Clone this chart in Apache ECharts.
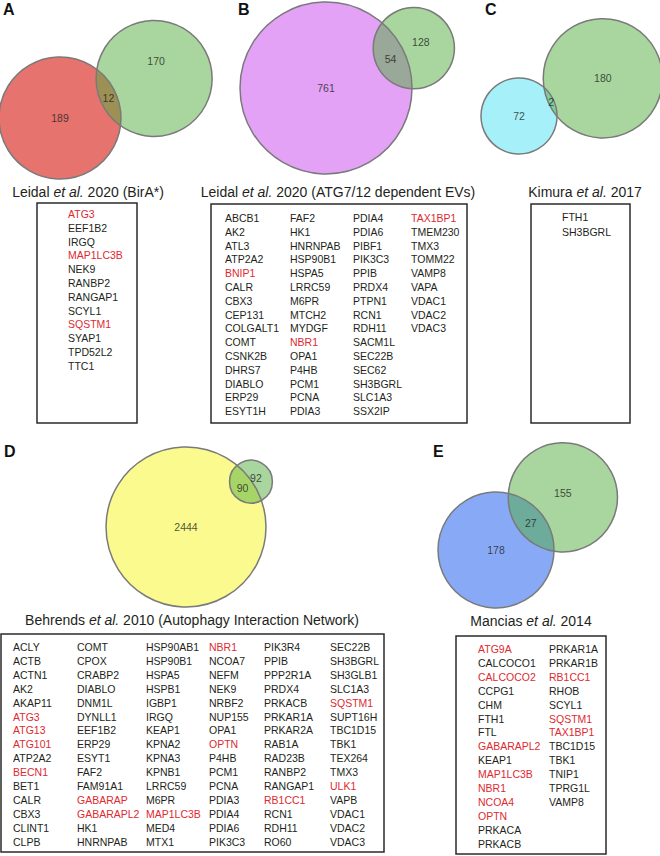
<!DOCTYPE html>
<html><head><meta charset="utf-8">
<script src="https://cdn.jsdelivr.net/npm/echarts@6/dist/echarts.min.js"></script>
<style>html,body{margin:0;padding:0;background:#fff}#c{width:660px;height:856px}</style>
</head><body><div id="c"></div>
<script>
// ---------- DATA ----------
const panelLetters = ['A', 'B', 'C', 'D', 'E'];
const vennOnlyFirst = [189, 761, 72, 2444, 178];
const vennOnlySecond = [170, 128, 180, 92, 155];
const vennOverlap = [12, 54, 2, 90, 27];
const titleAuthors = ['Leidal', 'Leidal', 'Kimura', 'Behrends', 'Mancias'];
const titleRest = [' 2020 (BirA*)', ' 2020 (ATG7/12 dependent EVs)', ' 2017',
  ' 2010 (Autophagy Interaction Network)', ' 2014'];
const genesA = ['ATG3','EEF1B2','IRGQ','MAP1LC3B','NEK9','RANBP2','RANGAP1','SCYL1','SQSTM1','SYAP1','TPD52L2','TTC1'];
const genesB = ['ABCB1','AK2','ATL3','ATP2A2','BNIP1','CALR','CBX3','CEP131','COLGALT1','COMT','CSNK2B','DHRS7','DIABLO','ERP29','ESYT1H',
  'FAF2','HK1','HNRNPAB','HSP90B1','HSPA5','LRRC59','M6PR','MTCH2','MYDGF','NBR1','OPA1','P4HB','PCM1','PCNA','PDIA3',
  'PDIA4','PDIA6','PIBF1','PIK3C3','PPIB','PRDX4','PTPN1','RCN1','RDH11','SACM1L','SEC22B','SEC62','SH3BGRL','SLC1A3','SSX2IP',
  'TAX1BP1','TMEM230','TMX3','TOMM22','VAMP8','VAPA','VDAC1','VDAC2','VDAC3'];
const genesC = ['FTH1','SH3BGRL'];
const genesD = ['ACLY','ACTB','ACTN1','AK2','AKAP11','ATG3','ATG13','ATG101','ATP2A2','BECN1','BET1','CALR','CBX3','CLINT1','CLPB',
  'COMT','CPOX','CRABP2','DIABLO','DNM1L','DYNLL1','EEF1B2','ERP29','ESYT1','FAF2','FAM91A1','GABARAP','GABARAPL2','HK1','HNRNPAB',
  'HSP90AB1','HSP90B1','HSPA5','HSPB1','IGBP1','IRGQ','KEAP1','KPNA2','KPNA3','KPNB1','LRRC59','M6PR','MAP1LC3B','MED4','MTX1',
  'NBR1','NCOA7','NEFM','NEK9','NRBF2','NUP155','OPA1','OPTN','P4HB','PCM1','PCNA','PDIA3','PDIA4','PDIA6','PIK3C3',
  'PIK3R4','PPIB','PPP2R1A','PRDX4','PRKACB','PRKAR1A','PRKAR2A','RAB1A','RAD23B','RANBP2','RANGAP1','RB1CC1','RCN1','RDH11','RO60',
  'SEC22B','SH3BGRL','SH3GLB1','SLC1A3','SQSTM1','SUPT16H','TBC1D15','TBK1','TEX264','TMX3','ULK1','VAPB','VDAC1','VDAC2','VDAC3'];
const genesE = ['ATG9A','CALCOCO1','CALCOCO2','CCPG1','CHM','FTH1','FTL','GABARAPL2','KEAP1','MAP1LC3B','NBR1','NCOA4','OPTN','PRKACA','PRKACB',
  'PRKAR1A','PRKAR1B','RB1CC1','RHOB','SCYL1','SQSTM1','TAX1BP1','TBC1D15','TBK1','TNIP1','TPRG1L','VAMP8'];
const autophagyGenes = ['ATG3','MAP1LC3B','SQSTM1','BNIP1','NBR1','TAX1BP1','ATG13','ATG101','BECN1','GABARAP','GABARAPL2',
  'OPTN','RB1CC1','ULK1','ATG9A','CALCOCO2','NCOA4'];

// ---------- LAYOUT / STYLE ----------
const geneLists = [genesA, genesB, genesC, genesD, genesE];
const firstColors = ['#e6736d', '#e3a2f6', '#a6f0f9', '#fafa8e', '#88aaf6'];
const secondColor = 'rgba(81,173,61,0.5)';
const layoutC1 = [[60, 118], [326, 88], [519, 116], [186, 527], [496, 550]];
const layoutScale = [4.3, 3.012, 4.42, 1.589, 4.05];
const layoutAngle = [22.8, 24.4, 24.2, 34.9, 38.2];
const secondLabelShift = [[2, -17], [7, -6], [0, 0], [5, -4], [0, -4]];
const letterPos = [[3, 1], [238, 1], [485, 1], [4, 443], [433, 443]];
const titlePos = [[88, 192], [338, 192], [585, 192], [192, 620], [531, 621]];
const boxRects = [[37, 203, 100, 220], [211, 204, 256, 219], [531, 204, 99, 219], [1, 634, 383, 218], [456, 636, 150, 218]];
const colX = [[68], [225, 290, 353, 411], [562], [13, 77, 146, 209, 264, 330], [478, 549]];
const rowY0 = [214, 218, 217, 647, 649];
const rowStep = [13.8, 13.8, 14.5, 13.9, 13.9];
const rowsPerCol = 15;
const FONT = '"Liberation Sans", Arial, sans-serif';
const RED = '#dd2a30', INK = '#231f20';

function lensArea(r1, r2, d) {
  if (d >= r1 + r2) return 0;
  if (d <= Math.abs(r1 - r2)) return Math.PI * Math.min(r1, r2) ** 2;
  const a1 = Math.acos((d * d + r1 * r1 - r2 * r2) / (2 * d * r1));
  const a2 = Math.acos((d * d + r2 * r2 - r1 * r1) / (2 * d * r2));
  const t = Math.sqrt((-d + r1 + r2) * (d + r1 - r2) * (d - r1 + r2) * (d + r1 + r2));
  return r1 * r1 * a1 + r2 * r2 * a2 - 0.5 * t;
}
function solveDist(r1, r2, target) {
  let lo = Math.abs(r1 - r2), hi = r1 + r2;
  for (let i = 0; i < 60; i++) {
    const m = (lo + hi) / 2;
    if (lensArea(r1, r2, m) > target) lo = m; else hi = m;
  }
  return (lo + hi) / 2;
}

const fillFirst = [], fillSecond = [], outlines = [], labels = [];
panelLetters.forEach((p, i) => {
  const k = layoutScale[i];
  const n1 = vennOnlyFirst[i] + vennOverlap[i], n2 = vennOnlySecond[i] + vennOverlap[i];
  const r1 = k * Math.sqrt(n1), r2 = k * Math.sqrt(n2);
  const d = solveDist(r1, r2, Math.PI * k * k * vennOverlap[i]);
  const a = layoutAngle[i] * Math.PI / 180;
  const dir = [Math.cos(a), -Math.sin(a)];
  const c1 = layoutC1[i];
  const c2 = [c1[0] + d * dir[0], c1[1] + d * dir[1]];
  fillFirst.push({ value: [c1[0], c1[1]], symbolSize: 2 * r1, itemStyle: { color: firstColors[i] } });
  fillSecond.push({ value: [c2[0], c2[1]], symbolSize: 2 * r2 });
  outlines.push({ value: [c1[0], c1[1]], symbolSize: 2 * r1 });
  outlines.push({ value: [c2[0], c2[1]], symbolSize: 2 * r2 });
  const t = (d - r2 + r1) / 2;
  labels.push({ value: [c1[0], c1[1], vennOnlyFirst[i]] });
  labels.push({ value: [c2[0] + secondLabelShift[i][0], c2[1] + secondLabelShift[i][1], vennOnlySecond[i]] });
  labels.push({ value: [c1[0] + t * dir[0], c1[1] + t * dir[1], vennOverlap[i]] });
});

const graphics = [];
panelLetters.forEach((p, i) => {
  graphics.push({ type: 'text', x: letterPos[i][0], y: letterPos[i][1], silent: true,
    style: { text: p, font: 'bold 16px ' + FONT, fill: '#111', textVerticalAlign: 'top' } });
  graphics.push({ type: 'text', x: titlePos[i][0], y: titlePos[i][1], silent: true,
    style: { text: '{n|' + titleAuthors[i] + ' }{i|et al.}{n|' + titleRest[i] + '}',
      align: 'center', verticalAlign: 'middle', textAlign: 'center', textVerticalAlign: 'middle',
      rich: { n: { fontSize: 14, fontFamily: FONT, fill: INK, color: INK },
              i: { fontSize: 14, fontFamily: FONT, fontStyle: 'italic', fill: INK, color: INK } } } });
  const b = boxRects[i];
  graphics.push({ type: 'rect', silent: true, shape: { x: b[0], y: b[1], width: b[2], height: b[3] },
    style: { fill: 'none', stroke: '#2b2b2b', lineWidth: 1.5 } });
  geneLists[i].forEach((g, j) => {
    const col = Math.floor(j / rowsPerCol), row = j % rowsPerCol;
    graphics.push({ type: 'text', silent: true, x: colX[i][col], y: rowY0[i] + row * rowStep[i],
      style: { text: g, font: '10.5px ' + FONT, fill: autophagyGenes.includes(g) ? RED : INK,
        textVerticalAlign: 'middle' } });
  });
});

const chart = echarts.init(document.getElementById('c'), null, { renderer: 'svg', width: 660, height: 856 });
chart.setOption({
  animation: false,
  grid: { left: 0, right: 0, top: 0, bottom: 0 },
  xAxis: { type: 'value', min: 0, max: 660, show: false },
  yAxis: { type: 'value', min: 0, max: 856, inverse: true, show: false },
  series: [
    { type: 'scatter', silent: true, symbol: 'circle', data: fillFirst, itemStyle: { opacity: 1 }, z: 1 },
    { type: 'scatter', silent: true, symbol: 'circle', data: fillSecond, itemStyle: { color: secondColor, opacity: 1 }, z: 2 },
    { type: 'scatter', silent: true, symbol: 'circle', data: outlines, z: 3,
      itemStyle: { color: 'rgba(0,0,0,0)', borderColor: '#7a7a7a', borderWidth: 1.5, opacity: 1 } },
    { type: 'scatter', silent: true, symbolSize: 1, data: labels, z: 4, itemStyle: { color: 'rgba(0,0,0,0)' },
      label: { show: true, position: 'inside', formatter: p => p.value[2], fontFamily: FONT, fontSize: 10.5, color: INK } }
  ],
  graphic: { elements: graphics }
});
</script>
</body></html>
